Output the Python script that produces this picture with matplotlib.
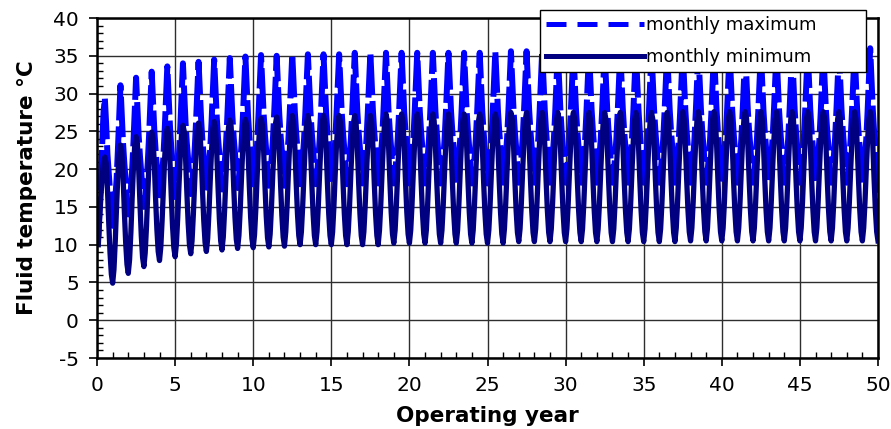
import numpy as np
import matplotlib
matplotlib.use("Agg")
import matplotlib.pyplot as plt
from matplotlib.lines import Line2D
from matplotlib.ticker import MultipleLocator

plt.rcParams['axes.unicode_minus'] = False

## monthly values (Jan..Dec), one row per operating year
## years 1-12: the field is still warming up, every year is different
max_early = [
    [11.0, 15.0, 19.0, 23.5, 27.5, 29.4, 26.0, 22.0, 19.5, 17.0, 14.5, 12.5],
    [14.0, 16.0, 18.6, 22.4, 26.6, 31.1, 27.3, 23.4, 20.7, 18.5, 16.1, 14.0],
    [15.4, 17.4, 20.0, 23.6, 27.8, 32.1, 28.3, 24.4, 21.7, 19.5, 17.1, 15.0],
    [16.4, 18.4, 20.9, 24.5, 28.6, 32.9, 29.1, 25.2, 22.5, 20.3, 17.9, 15.8],
    [17.2, 19.2, 21.7, 25.2, 29.3, 33.6, 29.8, 25.8, 23.0, 20.9, 18.4, 16.3],
    [17.7, 19.7, 22.1, 25.7, 29.8, 34.0, 30.2, 26.2, 23.4, 21.3, 18.8, 16.7],
    [18.1, 20.0, 22.5, 26.0, 30.0, 34.2, 30.4, 26.5, 23.7, 21.6, 19.1, 17.0],
    [18.4, 20.3, 22.8, 26.3, 30.3, 34.5, 30.7, 26.8, 24.0, 21.9, 19.4, 17.3],
    [18.7, 20.6, 23.0, 26.5, 30.5, 34.7, 30.9, 27.0, 24.2, 22.1, 19.6, 17.5],
    [18.9, 20.8, 23.2, 26.7, 30.7, 34.9, 31.1, 27.1, 24.4, 22.2, 19.7, 17.6],
    [19.0, 20.9, 23.4, 26.9, 30.9, 35.1, 31.3, 27.3, 24.6, 22.4, 19.9, 17.8],
    [19.2, 21.1, 23.5, 27.0, 30.9, 35.0, 31.2, 27.3, 24.5, 22.4, 19.9, 17.8],
]
min_early = [
    [10.0, 13.5, 16.4, 19.0, 20.9, 21.6, 20.8, 17.4, 12.9, 8.9, 6.1, 4.9],
    [6.7, 10.4, 15.0, 19.2, 22.1, 23.2, 22.4, 19.0, 14.4, 10.3, 7.4, 6.2],
    [8.0, 11.6, 16.2, 20.3, 23.2, 24.3, 23.4, 20.0, 15.4, 11.2, 8.3, 7.1],
    [8.9, 12.4, 16.9, 21.0, 23.8, 24.9, 24.1, 20.7, 16.1, 12.0, 9.1, 7.9],
    [9.7, 13.2, 17.5, 21.6, 24.4, 25.4, 24.6, 21.2, 16.6, 12.5, 9.6, 8.4],
    [10.1, 13.6, 18.0, 22.0, 24.8, 25.8, 25.0, 21.6, 17.0, 12.9, 10.0, 8.8],
    [10.5, 14.0, 18.3, 22.3, 25.1, 26.1, 25.3, 21.9, 17.3, 13.2, 10.3, 9.1],
    [10.8, 14.3, 18.6, 22.5, 25.3, 26.3, 25.5, 22.1, 17.5, 13.4, 10.5, 9.3],
    [11.0, 14.5, 18.8, 22.7, 25.5, 26.5, 25.7, 22.3, 17.7, 13.6, 10.7, 9.5],
    [11.2, 14.6, 18.9, 22.8, 25.6, 26.6, 25.8, 22.4, 17.8, 13.7, 10.8, 9.6],
    [11.3, 14.7, 19.0, 22.9, 25.7, 26.7, 25.9, 22.5, 17.9, 13.8, 10.9, 9.7],
    [11.4, 14.9, 19.2, 23.1, 25.9, 26.9, 26.0, 22.6, 18.0, 13.9, 11.0, 9.8],
]

## years 13-50: near steady state, same yearly curve repeated for n years
max_late = [
    [19.4, 21.3, 23.8, 27.3, 31.2, 35.2, 31.5, 27.5, 24.8, 22.6, 20.1, 18.0],
    [19.5, 21.4, 23.9, 27.4, 31.4, 35.4, 31.6, 27.6, 24.9, 22.7, 20.2, 18.1],
    [19.6, 21.5, 24.0, 27.5, 31.5, 35.6, 31.8, 27.8, 25.0, 22.8, 20.3, 18.2],
    [19.6, 21.5, 24.0, 27.6, 31.8, 36.0, 32.0, 27.9, 25.0, 22.8, 20.0, 11.5],
]
max_late_years = [4, 9, 24, 1]

min_late = [
    [11.7, 15.1, 19.4, 23.3, 26.1, 27.1, 26.2, 22.8, 18.2, 14.1, 11.2, 10.0],
    [11.9, 15.3, 19.6, 23.5, 26.3, 27.3, 26.4, 23.0, 18.4, 14.3, 11.4, 10.2],
    [12.1, 15.5, 19.8, 23.7, 26.5, 27.5, 26.6, 23.2, 18.6, 14.5, 11.6, 10.4],
    [12.2, 15.6, 19.9, 23.8, 26.6, 27.6, 26.7, 23.3, 18.7, 14.6, 11.7, 10.5],
]
min_late_years = [6, 8, 11, 13]

series_labels = ['monthly maximum', 'monthly minimum']

## build the monthly series, x in operating years
def build(early, late, counts):
    rows = list(early)
    for row, n in zip(late, counts):
        rows += [row] * n
    return np.ravel(rows)

t_max = build(max_early, max_late, max_late_years)
t_min = build(min_early, min_late, min_late_years)
years = np.arange(1, len(t_max) + 1) / 12.0

fig, ax = plt.subplots(figsize=(8.91, 4.29), dpi=100)
fig.subplots_adjust(left=0.1089, right=0.9854, top=0.958, bottom=0.1655)

# long dashes with short gaps -> mostly solid strokes with scattered notches
ax.plot(years, t_max, color='#0000ff', lw=4.3, dashes=(6.8, 1.0))
ax.plot(years[:len(t_min)], t_min, color='#000080', lw=3.8)

ax.set_xlim(0, 50)
ax.set_ylim(-5, 40)
ax.xaxis.set_major_locator(MultipleLocator(5))
ax.xaxis.set_minor_locator(MultipleLocator(1))
ax.yaxis.set_major_locator(MultipleLocator(5))
ax.yaxis.set_minor_locator(MultipleLocator(1))

ax.grid(True, which='major', color='#2e2e2e', lw=1.0)
ax.set_axisbelow(True)
ax.tick_params(which='major', direction='out', length=6, width=1.2, labelsize=14.5, pad=7)
ax.tick_params(which='minor', direction='in', length=4, width=1.0)
for sp in ax.spines.values():
    sp.set_linewidth(1.8)
    sp.set_color('black')

ax.set_xlabel('Operating year', fontsize=15.5, fontweight='bold', labelpad=8)
ax.set_ylabel('Fluid temperature °C', fontsize=15.5, fontweight='bold', labelpad=12)

## legend with its own handles (dash pattern as drawn in the key)
handles = [Line2D([], [], color='#0000ff', lw=3.6, dashes=(4, 2.2)),
           Line2D([], [], color='#000080', lw=3.6)]
leg = ax.legend(handles, series_labels, loc='upper left',
                bbox_to_anchor=(0.567, 1.0235, 0.4174, 0.0), mode='expand',
                fontsize=13, frameon=True, fancybox=False, framealpha=1,
                edgecolor='black', handlelength=5.4, handletextpad=0.15,
                labelspacing=0.75, borderpad=0.35, borderaxespad=0)
leg.get_frame().set_linewidth(1.0)

fig.savefig('out.png', dpi=100)
